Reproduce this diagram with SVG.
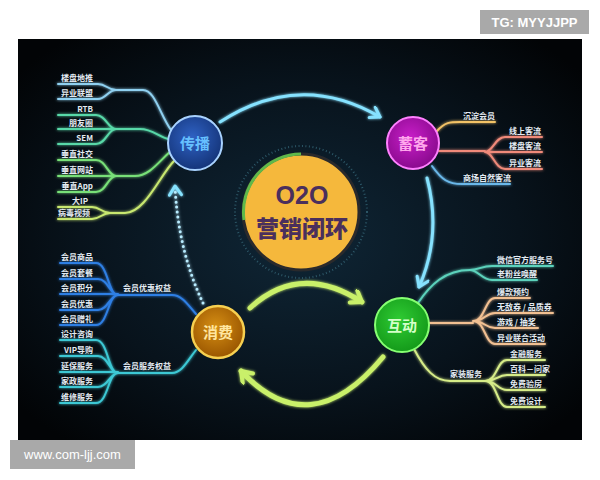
<svg xmlns="http://www.w3.org/2000/svg" width="600" height="480" viewBox="0 0 600 480">
<defs>
<radialGradient id="bg" cx="50%" cy="50%" r="65%">
<stop offset="0" stop-color="#0f2636"/>
<stop offset="0.6" stop-color="#08131c"/>
<stop offset="1" stop-color="#020406"/>
</radialGradient>
<radialGradient id="gBlue" cx="45%" cy="40%" r="60%"><stop offset="0" stop-color="#2f62c4"/><stop offset="1" stop-color="#15357a"/></radialGradient>
<radialGradient id="gMag" cx="45%" cy="40%" r="60%"><stop offset="0" stop-color="#c81ec8"/><stop offset="1" stop-color="#8a0a8e"/></radialGradient>
<radialGradient id="gGreen" cx="45%" cy="40%" r="60%"><stop offset="0" stop-color="#2fcb33"/><stop offset="1" stop-color="#149a1a"/></radialGradient>
<radialGradient id="gOrange" cx="45%" cy="40%" r="60%"><stop offset="0" stop-color="#d58e14"/><stop offset="1" stop-color="#9a5600"/></radialGradient>
<filter id="glow" x="-20%" y="-20%" width="140%" height="140%">
<feGaussianBlur stdDeviation="1.6" result="b"/>
<feMerge><feMergeNode in="b"/><feMergeNode in="SourceGraphic"/></feMerge>
</filter>
<marker id="arrB" markerUnits="userSpaceOnUse" markerWidth="16" markerHeight="16" refX="11" refY="7" orient="auto">
<path d="M2,1 L11,7 L2,13" fill="none" stroke="#86e2ff" stroke-width="3" stroke-linecap="round" stroke-linejoin="round"/>
</marker>
<marker id="arrG" markerUnits="userSpaceOnUse" markerWidth="18" markerHeight="18" refX="12" refY="8" orient="auto">
<path d="M2,1 L12,8 L2,15" fill="none" stroke="#c9f06a" stroke-width="4" stroke-linecap="round" stroke-linejoin="round"/>
</marker>
</defs>
<style>
.lbl{font-family:"Noto Sans CJK SC","Liberation Sans",sans-serif;font-size:8px;font-weight:bold;fill:#e4ebf2}
.ln{fill:none;stroke-width:2;stroke-linecap:round;stroke-linejoin:round}
.node{font-family:"Noto Sans CJK SC","Liberation Sans",sans-serif;font-size:15px;font-weight:bold;text-anchor:middle}
.wm{font-family:"Liberation Sans","DejaVu Sans",sans-serif;font-size:13px;fill:#ffffff;text-anchor:middle}
</style>
<rect width="600" height="480" fill="#ffffff"/>
<rect x="18" y="39" width="564" height="401" fill="url(#bg)"/>

<g id="connectors">
<g filter="url(#glow)">
<path class="ln" stroke="#8fd0f0" d="M58,84 H98 C106,84 108,90 116,90 M58,99 H98 C106,99 108,90 116,90 M116,90 H143 C155,90 160,115 171,130"/>
<path class="ln" stroke="#58d8a8" d="M58,115 H96 C106,115 108,129 116,129 M58,129 H116 M58,144 H96 C106,144 108,129 116,129 M116,129 H140 C152,129 158,136 168,139"/>
<path class="ln" stroke="#78e078" d="M58,160 H96 C106,160 108,176 116,176 M58,176 H116 M58,192 H96 C106,192 108,176 116,176 M116,176 H135 C150,176 160,160 170,152"/>
<path class="ln" stroke="#c8e870" d="M58,207 H92 C100,207 102,213 110,213 M58,219 H92 C100,219 102,213 110,213 M110,213 H125 C145,213 160,175 174,161"/>
<path class="ln" stroke="#2f7fe4" d="M60,263 H96 C108,263 108,295 118,295 M60,279 H98 C108,279 110,295 118,295 M60,294 H118 M60,310 H98 C108,310 110,295 118,295 M60,325 H96 C108,325 108,295 118,295 M118,295 H172 C182,295 188,305 196,314"/>
<path class="ln" stroke="#3cc8d4" d="M60,340 H96 C108,340 108,373 118,373 M60,356 H98 C108,356 110,373 118,373 M60,372 H118 M60,387 H98 C108,387 110,373 118,373 M60,403 H96 C108,403 108,373 118,373 M118,373 H172 C182,373 188,360 196,350"/>
<path class="ln" stroke="#f2c266" d="M437,131 C445,122 450,122 460,122 H495"/>
<path class="ln" stroke="#f08a7a" d="M439,151 H485 M485,152 C493,152 495,137 505,137 H542 M485,152 H542 M485,152 C493,152 495,169 505,169 H542"/>
<path class="ln" stroke="#6ab8ea" d="M432,166 C442,180 448,184 462,184 H510"/>
<path class="ln" stroke="#5cd2bc" d="M418,303 C430,285 445,270 470,270 M470,270 C478,270 482,266 492,266 H553 M470,270 C478,270 482,280 492,280 H537"/>
<path class="ln" stroke="#f2c092" d="M429,323 H473 M473,321 C485,321 485,298 495,298 H530 M473,321 C485,321 485,313 495,313 H553 M473,321 C485,321 485,328 495,328 H538 M473,321 C485,321 485,344 495,344 H545"/>
<path class="ln" stroke="#d6ec88" d="M414,349 C425,370 435,381 450,381 H485 M485,381 C497,381 497,360 507,360 H545 M485,381 C497,381 497,375 507,375 H545 M485,381 C497,381 497,390 507,390 H545 M485,381 C497,381 497,407 507,407 H545"/>
</g>
<g filter="url(#glow)">
<path d="M220,122 Q300,70 380,117" fill="none" stroke="#86e2ff" stroke-width="3" stroke-linecap="round" marker-end="url(#arrB)"/>
<path d="M427,178 Q442,235 419,287" fill="none" stroke="#86e2ff" stroke-width="3" stroke-linecap="round" marker-end="url(#arrB)"/>
<path d="M203,303 Q178,250 175,186" fill="none" stroke="#b8ecff" stroke-width="3" stroke-linecap="round" stroke-dasharray="0 5" marker-end="url(#arrB)"/>
<path d="M250,308 Q300,262 362,302" fill="none" stroke="#c9f06a" stroke-width="5" stroke-linecap="round" marker-end="url(#arrG)"/>
<path d="M383,357 Q310,445 241,371" fill="none" stroke="#c9f06a" stroke-width="5" stroke-linecap="round" marker-end="url(#arrG)"/>
</g>
</g>

<g id="center">
<circle cx="301" cy="212" r="66" fill="none" stroke="#2c5666" stroke-width="2" stroke-dasharray="1 2.5"/>
<circle cx="301" cy="212" r="58" fill="#f5b83c" stroke="#2a2a2c" stroke-width="3"/>
<path d="M244,220 A58,58 0 0 1 301,154" fill="none" stroke="#5fb84a" stroke-width="3"/>
<text x="302" y="204" text-anchor="middle" font-family="'Liberation Sans','Noto Sans CJK SC',sans-serif" font-size="25" font-weight="bold" fill="#4a2f5c">O2O</text>
<text x="302" y="237" text-anchor="middle" font-family="'Noto Sans CJK SC',sans-serif" font-size="23" font-weight="900" fill="#4a2f5c">营销闭环</text>
</g>

<g id="node-chuanbo">
<circle cx="195" cy="143" r="27" fill="url(#gBlue)" stroke="#a8d2ff" stroke-width="2"/>
<text class="node" x="195" y="149" fill="#66c0ff">传播</text>
<g class="lbl" text-anchor="end">
<text x="93" y="81">楼盘地推</text>
<text x="93" y="96">异业联盟</text>
<text x="93" y="112">RTB</text>
<text x="93" y="126">朋友圈</text>
<text x="93" y="141">SEM</text>
<text x="93" y="157">垂直社交</text>
<text x="93" y="173">垂直网站</text>
<text x="93" y="189">垂直App</text>
<text x="88" y="204">大IP</text>
<text x="90" y="216">病毒视频</text>
</g>
</g>

<g id="node-xuke">
<circle cx="413" cy="143" r="26" fill="url(#gMag)" stroke="#ff80ff" stroke-width="2"/>
<text class="node" x="413" y="149" fill="#ffa6ec">蓄客</text>
<g class="lbl">
<text x="463" y="119">沉淀会员</text>
<text x="509" y="134">线上客流</text>
<text x="509" y="149">楼盘客流</text>
<text x="509" y="166">异业客流</text>
<text x="463" y="181">商场自然客流</text>
</g>
</g>

<g id="node-hudong">
<circle cx="402" cy="325" r="27" fill="url(#gGreen)" stroke="#86ff72" stroke-width="2"/>
<text class="node" x="402" y="331" fill="#d4ffc8">互动</text>
<g class="lbl">
<text x="497" y="263">微信官方服务号</text>
<text x="497" y="277">老粉丝唤醒</text>
<text x="497" y="295">爆款预约</text>
<text x="497" y="310">无敌券 / 品质券</text>
<text x="497" y="325">游戏 / 抽奖</text>
<text x="497" y="341">异业联合活动</text>
<text x="450" y="377">家装服务</text>
<text x="510" y="357">金融服务</text>
<text x="510" y="372">百科－问家</text>
<text x="510" y="387">免费验房</text>
<text x="510" y="404">免费设计</text>
</g>
</g>

<g id="node-xiaofei">
<circle cx="218" cy="332" r="26" fill="url(#gOrange)" stroke="#f7d050" stroke-width="2.5"/>
<text class="node" x="218" y="338" fill="#ffe6a0">消费</text>
<g class="lbl">
<text x="123" y="291">会员优惠权益</text>
<text x="123" y="369">会员服务权益</text>
</g>
<g class="lbl" text-anchor="end">
<text x="93" y="260">会员商品</text>
<text x="93" y="276">会员套餐</text>
<text x="93" y="291">会员积分</text>
<text x="93" y="307">会员优惠</text>
<text x="93" y="322">会员赠礼</text>
<text x="93" y="337">设计咨询</text>
<text x="93" y="353">VIP导购</text>
<text x="93" y="369">延保服务</text>
<text x="93" y="384">家政服务</text>
<text x="93" y="400">维修服务</text>
</g>
</g>

<g id="watermarks">
<rect x="480" y="10" width="109" height="24" fill="#a9a9a9"/>
<text class="wm" x="534.5" y="27" font-weight="bold">TG: MYYJJPP</text>
<rect x="10" y="440" width="125" height="29" fill="#a9a9a9"/>
<text class="wm" x="72.5" y="459">www.com-ljj.com</text>
</g>
</svg>
